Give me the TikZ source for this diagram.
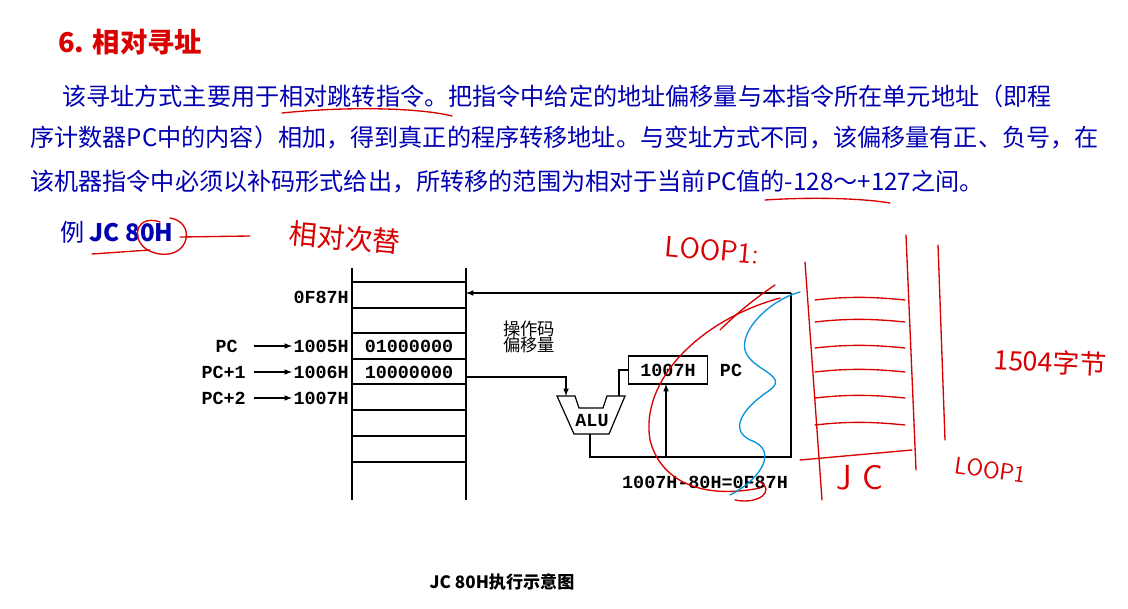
\documentclass[tikz,border=0pt]{standalone}
\usepackage{fontspec}
\setmonofont{Liberation Mono}
\newfontfamily\cjk{Noto Sans CJK SC}
\begin{document}
\begin{tikzpicture}[x=0.75pt,y=-0.75pt,
  mono/.style={font=\ttfamily\bfseries\fontsize{13.8}{14}\selectfont, inner sep=0pt},
  body/.style={anchor=west, inner sep=0pt, text=blue!70!black, font=\cjk\fontsize{18.1}{19}\selectfont},
  wire/.style={line width=0.9pt},
  arr/.style={wire,-latex},
  hand/.style={red!85!black, line width=1pt, line cap=round},
  handb/.style={cyan!80!blue, line width=1pt, line cap=round}]
\useasboundingbox[fill=white] (0,0) rectangle (1128,609);
% title and text
\node[anchor=west, inner sep=0pt, text=red!85!black, font=\cjk\fontsize{20.5}{21}\selectfont\bfseries] (title) at (58,42) {6. 相对寻址};
\node[body] (l1) at (62,96) {该寻址方式主要用于相对跳转指令。把指令中给定的地址偏移量与本指令所在单元地址（即程};
\node[body] (l2) at (30,137) {序计数器PC中的内容）相加，得到真正的程序转移地址。与变址方式不同，该偏移量有正、负号，在};
\node[body] (l3) at (30,182) {该机器指令中必须以补码形式给出，所转移的范围为相对于当前PC值的-128～+127之间。};
\node[body] (ex) at (60,232) {例 \textbf{JC 80H}};
% memory column
\draw[wire] (352,268) -- (352,500) (466,268) -- (466,500);
\foreach \y in {282,308,333,359,384,410,436,462}
  \draw[wire] (352,\y) -- (466,\y);
\node[mono, anchor=east] (a0) at (349,297) {0F87H};
\node[mono, anchor=east] (a5) at (349,346) {1005H};
\node[mono, anchor=east] (a6) at (349,372) {1006H};
\node[mono, anchor=east] (a7) at (349,398) {1007H};
\node[mono] (c5) at (409,346) {01000000};
\node[mono] (c6) at (409,372) {10000000};
\node[mono, anchor=east] (p0) at (238,346) {PC};
\node[mono, anchor=east] (p1) at (246,372) {PC+1};
\node[mono, anchor=east] (p2) at (246,398) {PC+2};
\foreach \a/\b in {p0/a5,p1/a6,p2/a7}
  \draw[arr] ([xshift=3pt]\a.east -| 250,0) -- ([xshift=-1pt]\b.west);
\node[inner sep=0pt, font=\cjk\fontsize{13}{14}\selectfont, align=left] (op) at (529,337) {操作码\\[-2pt]偏移量};
% ALU
\draw[wire] (557,396) -- (575,396) -- (579,408) -- (603,408) -- (607,396) -- (625,396) -- (609,434) -- (574,434) -- cycle;
\node[mono] (alu) at (592,421) {ALU};
\coordinate (alul) at (566,396);
\coordinate (alur) at (619,396);
\coordinate (aluo) at (590,434);
\node[draw, wire, minimum width=79pt*0.75, minimum height=28pt*0.75, mono] (pc) at (668,370) {1007H};
\node[mono] (pcl) at (731,370) {PC};
\node[mono] (res) at (705,482) {1007H-80H=0F87H};
\coordinate (rt) at (791,293);
\coordinate (rb) at (791,457);
\draw[arr] (466,377) -| (alul);
\draw[wire] (alur) |- (pc.west);
\draw[wire] (aluo) |- (rb) -- (rt);
\draw[arr] (rt) -- (466,293);
\draw[arr] (666,457) -- (666,384);
% caption
\node[inner sep=0pt, font=\cjk\fontsize{12.8}{13}\selectfont\bfseries] (cap) at (502,582) {JC 80H执行示意图};
% handwritten annotations
\draw[hand] (282,113) .. controls (350,106) and (420,108) .. (452,116);
\draw[hand] (765,200) .. controls (810,197) and (860,198) .. (890,203);
\draw[hand] (160,222) .. controls (132,212) and (128,250) .. (160,254) .. controls (190,258) and (196,222) .. (170,218);
\draw[hand] (92,254) -- (150,250);
\draw[hand] (180,237) -- (250,236);
\node[text=red!85!black, font=\cjk\fontsize{21}{22}\selectfont, rotate=-5] (hz) at (345,238) {相对次替};
\node[text=red!85!black, font=\fontsize{22}{22}\selectfont\sffamily, rotate=-5] (loop) at (712,250) {LOOP1:};
\node[text=red!85!black, font=\cjk\fontsize{20}{22}\selectfont, rotate=-3] (n15) at (1050,362) {1504字节};
\node[text=red!85!black, font=\fontsize{26}{26}\selectfont\sffamily] (jc) at (860,478) {J C};
\node[text=red!85!black, font=\fontsize{18}{18}\selectfont\sffamily, rotate=-8] (lp2) at (990,470) {LOOP1};
\draw[hand] (805,262) -- (822,500);
\draw[hand] (906,235) -- (916,470);
\draw[hand] (938,245) -- (945,440);
\draw[hand] (800,460) -- (912,450);
\foreach \y in {300,322,348,372,398,425}
  \draw[hand] (815,\y) .. controls (850,\y-4) and (875,\y-3) .. (905,\y);
\draw[hand] (780,298) .. controls (700,320) and (640,380) .. (650,440) .. controls (660,480) and (700,500) .. (760,488);
\draw[hand] (720,330) .. controls (740,310) and (760,295) .. (775,285);
\draw[hand] (735,500) .. controls (760,505) and (775,490) .. (760,482);
\draw[handb] (800,292) .. controls (770,300) and (740,330) .. (745,350) .. controls (750,370) and (790,375) .. (770,390) .. controls (740,410) and (730,430) .. (750,440) .. controls (780,450) and (760,480) .. (730,495);
\end{tikzpicture}
\end{document}
